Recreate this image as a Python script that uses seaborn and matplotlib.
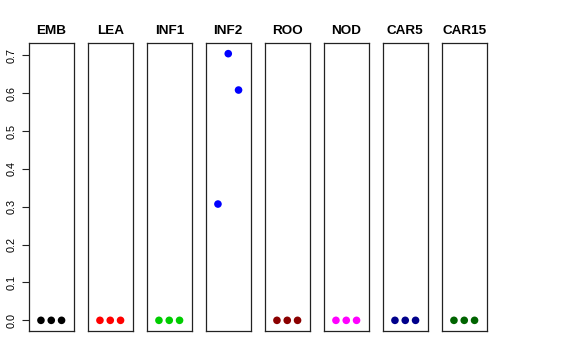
import numpy as np
import pandas as pd
import matplotlib
matplotlib.use("Agg")
import matplotlib.pyplot as plt
import seaborn as sns

sns.set_style("white")
plt.rcParams['font.family'] = ['Liberation Sans', 'DejaVu Sans']
plt.rcParams['text.color'] = 'black'
plt.rcParams['ytick.color'] = 'black'
plt.rcParams['axes.labelcolor'] = 'black'

tissues = ["EMB", "LEA", "INF1", "INF2", "ROO", "NOD", "CAR5", "CAR15"]
colors = ["#000000", "#FF0000", "#00CD00", "#0000FF", "#8B0000", "#FF00FF", "#00008B", "#006400"]
replicates = [1, 2, 3]
values = {
    "EMB": [0.0, 0.0, 0.0],
    "LEA": [0.0, 0.0, 0.0],
    "INF1": [0.0, 0.0, 0.0],
    "INF2": [0.307, 0.704, 0.608],
    "ROO": [0.0, 0.0, 0.0],
    "NOD": [0.0, 0.0, 0.0],
    "CAR5": [0.0, 0.0, 0.0],
    "CAR15": [0.0, 0.0, 0.0],
}
yticks = [0.0, 0.1, 0.2, 0.3, 0.4, 0.5, 0.6, 0.7]

df = pd.DataFrame(
    [(t, r, v) for t in tissues for r, v in zip(replicates, values[t])],
    columns=["tissue", "rep", "value"],
)

W, H = 576, 360
fig = plt.figure(figsize=(W / 100, H / 100), dpi=100)

ymax = df["value"].max()
pad = 0.04 * ymax
for i, (tissue, col) in enumerate(zip(tissues, colors)):
    left = 29 + i * 59
    ax = fig.add_axes([left / W, 1 - 331 / H, 44.5 / W, (331 - 43) / H])
    sub = df[df["tissue"] == tissue]
    sns.scatterplot(data=sub, x="rep", y="value", color=col, s=30,
                    edgecolor="none", ax=ax, legend=False)
    ax.set_xlim(-0.16, 4.16)
    ax.set_ylim(-pad, ymax + pad)
    ax.set_xlabel("")
    ax.set_ylabel("")
    ax.set_xticks([])
    for s in ax.spines.values():
        s.set_color("#222222")
        s.set_linewidth(0.9)
    ax.set_title(tissue, fontsize=9.7, fontweight="bold", pad=6.5, color="black")
    if i == 0:
        ax.set_yticks(yticks)
        ax.set_yticklabels([f"{v:.1f}" for v in yticks], rotation=90, va="center", fontsize=7.8)
        ax.tick_params(axis="y", left=True, length=5, width=0.8, pad=4, color="#222222", labelcolor="black")
    else:
        ax.set_yticks([])

fig.savefig("out.png", dpi=100, facecolor="white")
